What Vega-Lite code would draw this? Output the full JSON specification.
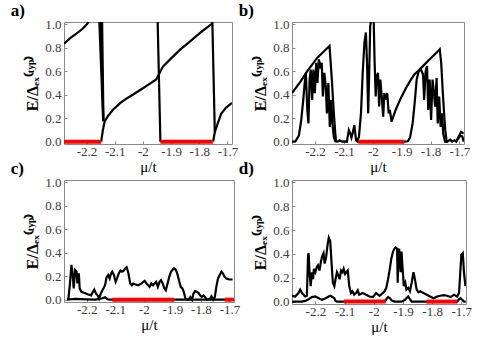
{
"$schema": "https://vega.github.io/schema/vega-lite/v6.json",
"padding": {"left": 10, "top": 1, "right": 5, "bottom": 2},
"columns": 2,
"spacing": {"row": -16, "column": -3},
"datasets": {
"a": [
{"s":"a1","x":-2.28,"y":0.835},{"s":"a1","x":-2.257,"y":0.885},{"s":"a1","x":-2.236,"y":0.92},{"s":"a1","x":-2.215,"y":0.96},{"s":"a1","x":-2.199,"y":1.0},{"s":"a1","x":-2.19,"y":1.03},
{"s":"a2","x":-2.155,"y":1.05},{"s":"a2","x":-2.141,"y":0.175},
{"s":"a3","x":-2.15,"y":1.05},{"s":"a3","x":-2.1405,"y":0.175},
{"s":"a3b","x":-2.145,"y":1.05},{"s":"a3b","x":-2.14,"y":0.175},
{"s":"a4","x":-2.148,"y":0},{"s":"a4","x":-2.142,"y":0.1},{"s":"a4","x":-2.136,"y":0.17},{"s":"a4","x":-2.125,"y":0.215},{"s":"a4","x":-2.107,"y":0.27},{"s":"a4","x":-2.08,"y":0.33},{"s":"a4","x":-2.06,"y":0.365},{"s":"a4","x":-2.036,"y":0.4},{"s":"a4","x":-2.0,"y":0.455},{"s":"a4","x":-1.975,"y":0.495},{"s":"a4","x":-1.953,"y":0.53},{"s":"a4","x":-1.944,"y":0.57},{"s":"a4","x":-1.929,"y":0.64},{"s":"a4","x":-1.9,"y":0.71},{"s":"a4","x":-1.87,"y":0.78},{"s":"a4","x":-1.84,"y":0.84},{"s":"a4","x":-1.811,"y":0.9},{"s":"a4","x":-1.785,"y":0.95},{"s":"a4","x":-1.758,"y":1.0},{"s":"a4","x":-1.752,"y":1.01},
{"s":"a5","x":-1.948,"y":1.05},{"s":"a5","x":-1.938,"y":0},
{"s":"a6","x":-1.754,"y":1.05},{"s":"a6","x":-1.745,"y":0.08},
{"s":"a7","x":-1.751,"y":0},{"s":"a7","x":-1.745,"y":0.08},{"s":"a7","x":-1.734,"y":0.16},{"s":"a7","x":-1.722,"y":0.24},{"s":"a7","x":-1.705,"y":0.29},{"s":"a7","x":-1.684,"y":0.33}
],
"b": [
{"s":"b1","x":-2.28,"y":0.414},{"s":"b1","x":-2.25,"y":0.514},{"s":"b1","x":-2.227,"y":0.601},{"s":"b1","x":-2.192,"y":0.716},{"s":"b1","x":-2.168,"y":0.773},{"s":"b1","x":-2.15,"y":0.816},{"s":"b1","x":-2.142,"y":0.529},{"s":"b1","x":-2.135,"y":0.241},{"s":"b1","x":-2.13,"y":0.069},{"s":"b1","x":-2.127,"y":0},
{"s":"b2","x":-2.28,"y":0},{"s":"b2","x":-2.268,"y":0.003},{"s":"b2","x":-2.256,"y":0.053},{"s":"b2","x":-2.248,"y":0.184},{"s":"b2","x":-2.241,"y":0.356},{"s":"b2","x":-2.236,"y":0.5},{"s":"b2","x":-2.232,"y":0.586},{"s":"b2","x":-2.227,"y":0.27},{"s":"b2","x":-2.223,"y":0.155},{"s":"b2","x":-2.219,"y":0.529},{"s":"b2","x":-2.215,"y":0.615},{"s":"b2","x":-2.21,"y":0.356},{"s":"b2","x":-2.206,"y":0.615},{"s":"b2","x":-2.201,"y":0.414},{"s":"b2","x":-2.196,"y":0.672},{"s":"b2","x":-2.192,"y":0.5},{"s":"b2","x":-2.187,"y":0.701},{"s":"b2","x":-2.182,"y":0.644},{"s":"b2","x":-2.177,"y":0.672},{"s":"b2","x":-2.173,"y":0.385},{"s":"b2","x":-2.168,"y":0.586},{"s":"b2","x":-2.163,"y":0.471},{"s":"b2","x":-2.159,"y":0.241},{"s":"b2","x":-2.154,"y":0.5},{"s":"b2","x":-2.149,"y":0.126},{"s":"b2","x":-2.144,"y":0.356},{"s":"b2","x":-2.14,"y":0.155},{"s":"b2","x":-2.135,"y":0.04},{"s":"b2","x":-2.13,"y":0.003},{"s":"b2","x":-2.121,"y":0},{"s":"b2","x":-2.115,"y":0.011},{"s":"b2","x":-2.107,"y":0},{"s":"b2","x":-2.097,"y":0.003},{"s":"b2","x":-2.09,"y":0},{"s":"b2","x":-2.083,"y":0.098},{"s":"b2","x":-2.078,"y":0.069},{"s":"b2","x":-2.074,"y":0.034},{"s":"b2","x":-2.069,"y":0.083},{"s":"b2","x":-2.064,"y":0.141},{"s":"b2","x":-2.058,"y":0.011},{"s":"b2","x":-2.053,"y":0},{"s":"b2","x":-1.891,"y":0},{"s":"b2","x":-1.879,"y":0.003},{"s":"b2","x":-1.871,"y":0.034},{"s":"b2","x":-1.862,"y":0.155},{"s":"b2","x":-1.855,"y":0.328},{"s":"b2","x":-1.848,"y":0.529},{"s":"b2","x":-1.841,"y":0.6},{"s":"b2","x":-1.833,"y":0.615},{"s":"b2","x":-1.826,"y":0.572},{"s":"b2","x":-1.822,"y":0.356},{"s":"b2","x":-1.817,"y":0.6},{"s":"b2","x":-1.812,"y":0.644},{"s":"b2","x":-1.808,"y":0.27},{"s":"b2","x":-1.803,"y":0.529},{"s":"b2","x":-1.798,"y":0.184},{"s":"b2","x":-1.793,"y":0.529},{"s":"b2","x":-1.789,"y":0.442},{"s":"b2","x":-1.784,"y":0.299},{"s":"b2","x":-1.779,"y":0.543},{"s":"b2","x":-1.775,"y":0.155},{"s":"b2","x":-1.77,"y":0.385},{"s":"b2","x":-1.765,"y":0.126},{"s":"b2","x":-1.76,"y":0.241},{"s":"b2","x":-1.756,"y":0.069},{"s":"b2","x":-1.75,"y":0},{"s":"b2","x":-1.742,"y":0},{"s":"b2","x":-1.732,"y":0.017},{"s":"b2","x":-1.725,"y":0},{"s":"b2","x":-1.717,"y":0.011},{"s":"b2","x":-1.711,"y":0},{"s":"b2","x":-1.703,"y":0.04},{"s":"b2","x":-1.694,"y":0.083},{"s":"b2","x":-1.685,"y":0.069},
{"s":"b3","x":-2.056,"y":0},{"s":"b3","x":-2.048,"y":0.04},{"s":"b3","x":-2.041,"y":0.241},{"s":"b3","x":-2.035,"y":0.586},{"s":"b3","x":-2.029,"y":0.845},{"s":"b3","x":-2.024,"y":0.931},{"s":"b3","x":-2.02,"y":0.672},{"s":"b3","x":-2.016,"y":0.241},{"s":"b3","x":-2.013,"y":0.529},{"s":"b3","x":-2.009,"y":0.988},{"s":"b3","x":-2.005,"y":1.046},{"s":"b3","x":-2.001,"y":1.06},{"s":"b3","x":-1.997,"y":1.046},{"s":"b3","x":-1.994,"y":0.701},{"s":"b3","x":-1.99,"y":0.385},{"s":"b3","x":-1.987,"y":0.557},{"s":"b3","x":-1.982,"y":0.586},{"s":"b3","x":-1.978,"y":0.299},{"s":"b3","x":-1.974,"y":0.529},{"s":"b3","x":-1.969,"y":0.385},{"s":"b3","x":-1.964,"y":0.213},{"s":"b3","x":-1.96,"y":0.414},{"s":"b3","x":-1.955,"y":0.356},{"s":"b3","x":-1.95,"y":0.414},{"s":"b3","x":-1.945,"y":0.241},{"s":"b3","x":-1.941,"y":0.27},{"s":"b3","x":-1.935,"y":0.17},{"s":"b3","x":-1.921,"y":0.27},{"s":"b3","x":-1.903,"y":0.371},{"s":"b3","x":-1.885,"y":0.457},{"s":"b3","x":-1.868,"y":0.529},{"s":"b3","x":-1.856,"y":0.572},{"s":"b3","x":-1.844,"y":0.6},{"s":"b3","x":-1.826,"y":0.644},{"s":"b3","x":-1.809,"y":0.687},{"s":"b3","x":-1.791,"y":0.73},{"s":"b3","x":-1.777,"y":0.764},{"s":"b3","x":-1.768,"y":0.787},{"s":"b3","x":-1.763,"y":0.672},{"s":"b3","x":-1.758,"y":0.442},{"s":"b3","x":-1.753,"y":0.241},{"s":"b3","x":-1.749,"y":0.098},{"s":"b3","x":-1.744,"y":0},{"s":"b3","x":-1.739,"y":0},
{"s":"b5","x":-1.711,"y":0},{"s":"b5","x":-1.703,"y":0.03},{"s":"b5","x":-1.696,"y":0.05},{"s":"b5","x":-1.69,"y":0.045},{"s":"b5","x":-1.685,"y":0.0}
],
"c": [
{"s":"c1","x":-2.265,"y":0},{"s":"c1","x":-2.259,"y":0.138},{"s":"c1","x":-2.254,"y":0.296},{"s":"c1","x":-2.25,"y":0.224},{"s":"c1","x":-2.246,"y":0.095},{"s":"c1","x":-2.241,"y":0.253},{"s":"c1","x":-2.236,"y":0.238},{"s":"c1","x":-2.233,"y":0.138},{"s":"c1","x":-2.228,"y":0.224},{"s":"c1","x":-2.225,"y":0.095},{"s":"c1","x":-2.219,"y":0.066},{"s":"c1","x":-2.208,"y":0.057},{"s":"c1","x":-2.197,"y":0.046},{"s":"c1","x":-2.185,"y":0.037},{"s":"c1","x":-2.179,"y":0.066},{"s":"c1","x":-2.174,"y":0.086},{"s":"c1","x":-2.168,"y":0.052},{"s":"c1","x":-2.162,"y":0.037},{"s":"c1","x":-2.157,"y":0.008},{"s":"c1","x":-2.151,"y":0.052},{"s":"c1","x":-2.145,"y":0.08},{"s":"c1","x":-2.136,"y":0.123},{"s":"c1","x":-2.131,"y":0.189},{"s":"c1","x":-2.125,"y":0.21},{"s":"c1","x":-2.12,"y":0.181},{"s":"c1","x":-2.115,"y":0.224},{"s":"c1","x":-2.111,"y":0.238},{"s":"c1","x":-2.105,"y":0.21},{"s":"c1","x":-2.099,"y":0.152},{"s":"c1","x":-2.094,"y":0.181},{"s":"c1","x":-2.088,"y":0.224},{"s":"c1","x":-2.082,"y":0.247},{"s":"c1","x":-2.077,"y":0.238},{"s":"c1","x":-2.071,"y":0.247},{"s":"c1","x":-2.065,"y":0.267},{"s":"c1","x":-2.06,"y":0.276},{"s":"c1","x":-2.054,"y":0.224},{"s":"c1","x":-2.048,"y":0.138},{"s":"c1","x":-2.042,"y":0.123},{"s":"c1","x":-2.037,"y":0.138},{"s":"c1","x":-2.031,"y":0.132},{"s":"c1","x":-2.02,"y":0.123},{"s":"c1","x":-2.008,"y":0.138},{"s":"c1","x":-2.002,"y":0.152},{"s":"c1","x":-1.997,"y":0.161},{"s":"c1","x":-1.991,"y":0.138},{"s":"c1","x":-1.985,"y":0.123},{"s":"c1","x":-1.98,"y":0.109},{"s":"c1","x":-1.974,"y":0.138},{"s":"c1","x":-1.968,"y":0.123},{"s":"c1","x":-1.963,"y":0.138},{"s":"c1","x":-1.957,"y":0.152},{"s":"c1","x":-1.951,"y":0.109},{"s":"c1","x":-1.945,"y":0.152},{"s":"c1","x":-1.94,"y":0.166},{"s":"c1","x":-1.934,"y":0.138},{"s":"c1","x":-1.928,"y":0.095},{"s":"c1","x":-1.923,"y":0.08},{"s":"c1","x":-1.917,"y":0.138},{"s":"c1","x":-1.911,"y":0.195},{"s":"c1","x":-1.905,"y":0.238},{"s":"c1","x":-1.9,"y":0.253},{"s":"c1","x":-1.894,"y":0.267},{"s":"c1","x":-1.888,"y":0.253},{"s":"c1","x":-1.883,"y":0.224},{"s":"c1","x":-1.877,"y":0.166},{"s":"c1","x":-1.871,"y":0.109},{"s":"c1","x":-1.865,"y":0.095},{"s":"c1","x":-1.86,"y":0.066},{"s":"c1","x":-1.854,"y":0.008},{"s":"c1","x":-1.848,"y":0},{"s":"c1","x":-1.843,"y":0},{"s":"c1","x":-1.837,"y":0.023},{"s":"c1","x":-1.831,"y":0},{"s":"c1","x":-1.826,"y":0.052},{"s":"c1","x":-1.82,"y":0.074},{"s":"c1","x":-1.814,"y":0.066},{"s":"c1","x":-1.808,"y":0.057},{"s":"c1","x":-1.803,"y":0.037},{"s":"c1","x":-1.797,"y":0.023},{"s":"c1","x":-1.791,"y":0.037},{"s":"c1","x":-1.786,"y":0.023},{"s":"c1","x":-1.78,"y":0},{"s":"c1","x":-1.774,"y":0.003},{"s":"c1","x":-1.768,"y":0.008},{"s":"c1","x":-1.763,"y":0.029},{"s":"c1","x":-1.757,"y":0},{"s":"c1","x":-1.751,"y":0.023},{"s":"c1","x":-1.746,"y":0.109},{"s":"c1","x":-1.74,"y":0.181},{"s":"c1","x":-1.734,"y":0.21},{"s":"c1","x":-1.728,"y":0.238},{"s":"c1","x":-1.723,"y":0.224},{"s":"c1","x":-1.717,"y":0.195},{"s":"c1","x":-1.711,"y":0.181},{"s":"c1","x":-1.7,"y":0.172},{"s":"c1","x":-1.689,"y":0.172},
{"s":"c2","x":-2.27,"y":0},{"s":"c2","x":-2.24,"y":0.006},{"s":"c2","x":-2.2,"y":0.003},{"s":"c2","x":-2.17,"y":0},{"s":"c2","x":-2.145,"y":0.012},{"s":"c2","x":-2.136,"y":0.02},{"s":"c2","x":-2.126,"y":0.003},{"s":"c2","x":-2.11,"y":0},{"s":"c2","x":-1.685,"y":0}
],
"d": [
{"s":"d1","x":-2.28,"y":0.049},{"s":"d1","x":-2.269,"y":0.043},{"s":"d1","x":-2.258,"y":0.072},{"s":"d1","x":-2.252,"y":0.101},{"s":"d1","x":-2.246,"y":0.072},{"s":"d1","x":-2.235,"y":0.043},{"s":"d1","x":-2.229,"y":0.049},{"s":"d1","x":-2.225,"y":0.391},{"s":"d1","x":-2.223,"y":0.406},{"s":"d1","x":-2.22,"y":0.246},{"s":"d1","x":-2.216,"y":0.13},{"s":"d1","x":-2.212,"y":0.246},{"s":"d1","x":-2.208,"y":0.188},{"s":"d1","x":-2.205,"y":0.275},{"s":"d1","x":-2.2,"y":0.246},{"s":"d1","x":-2.195,"y":0.29},{"s":"d1","x":-2.191,"y":0.304},{"s":"d1","x":-2.186,"y":0.261},{"s":"d1","x":-2.181,"y":0.333},{"s":"d1","x":-2.177,"y":0.377},{"s":"d1","x":-2.172,"y":0.406},{"s":"d1","x":-2.168,"y":0.319},{"s":"d1","x":-2.163,"y":0.377},{"s":"d1","x":-2.158,"y":0.478},{"s":"d1","x":-2.154,"y":0.536},{"s":"d1","x":-2.149,"y":0.507},{"s":"d1","x":-2.144,"y":0.304},{"s":"d1","x":-2.14,"y":0.159},{"s":"d1","x":-2.135,"y":0.13},{"s":"d1","x":-2.131,"y":0.188},{"s":"d1","x":-2.126,"y":0.246},{"s":"d1","x":-2.121,"y":0.217},{"s":"d1","x":-2.117,"y":0.188},{"s":"d1","x":-2.112,"y":0.261},{"s":"d1","x":-2.107,"y":0.246},{"s":"d1","x":-2.103,"y":0.275},{"s":"d1","x":-2.098,"y":0.232},{"s":"d1","x":-2.094,"y":0.246},{"s":"d1","x":-2.089,"y":0.261},{"s":"d1","x":-2.084,"y":0.13},{"s":"d1","x":-2.078,"y":0.072},{"s":"d1","x":-2.073,"y":0.087},{"s":"d1","x":-2.067,"y":0.058},{"s":"d1","x":-2.061,"y":0.072},{"s":"d1","x":-2.055,"y":0.095},{"s":"d1","x":-2.05,"y":0.058},{"s":"d1","x":-2.038,"y":0.072},{"s":"d1","x":-2.026,"y":0.058},{"s":"d1","x":-2.015,"y":0.043},{"s":"d1","x":-2.003,"y":0.038},{"s":"d1","x":-1.992,"y":0.072},{"s":"d1","x":-1.98,"y":0.049},{"s":"d1","x":-1.969,"y":0.072},{"s":"d1","x":-1.963,"y":0.087},{"s":"d1","x":-1.957,"y":0.116},{"s":"d1","x":-1.951,"y":0.188},{"s":"d1","x":-1.945,"y":0.275},{"s":"d1","x":-1.94,"y":0.357},{"s":"d1","x":-1.934,"y":0.42},{"s":"d1","x":-1.928,"y":0.449},{"s":"d1","x":-1.925,"y":0.455},{"s":"d1","x":-1.92,"y":0.444},{"s":"d1","x":-1.918,"y":0.159},{"s":"d1","x":-1.915,"y":0.42},{"s":"d1","x":-1.913,"y":0.444},{"s":"d1","x":-1.908,"y":0.246},{"s":"d1","x":-1.905,"y":0.42},{"s":"d1","x":-1.901,"y":0.275},{"s":"d1","x":-1.897,"y":0.13},{"s":"d1","x":-1.892,"y":0.159},{"s":"d1","x":-1.888,"y":0.101},{"s":"d1","x":-1.882,"y":0.116},{"s":"d1","x":-1.876,"y":0.087},{"s":"d1","x":-1.87,"y":0.159},{"s":"d1","x":-1.864,"y":0.246},{"s":"d1","x":-1.859,"y":0.188},{"s":"d1","x":-1.853,"y":0.101},{"s":"d1","x":-1.847,"y":0.078},{"s":"d1","x":-1.841,"y":0.087},{"s":"d1","x":-1.83,"y":0.072},{"s":"d1","x":-1.818,"y":0.058},{"s":"d1","x":-1.807,"y":0.043},{"s":"d1","x":-1.795,"y":0.029},{"s":"d1","x":-1.783,"y":0.043},{"s":"d1","x":-1.772,"y":0.049},{"s":"d1","x":-1.76,"y":0.055},{"s":"d1","x":-1.749,"y":0.049},{"s":"d1","x":-1.737,"y":0.038},{"s":"d1","x":-1.725,"y":0.058},{"s":"d1","x":-1.714,"y":0.043},{"s":"d1","x":-1.708,"y":0.072},{"s":"d1","x":-1.705,"y":0.188},{"s":"d1","x":-1.7,"y":0.391},{"s":"d1","x":-1.695,"y":0.406},{"s":"d1","x":-1.691,"y":0.246},{"s":"d1","x":-1.686,"y":0.13},
{"s":"d2","x":-2.28,"y":0},{"s":"d2","x":-2.246,"y":0},{"s":"d2","x":-2.235,"y":0.006},{"s":"d2","x":-2.223,"y":0.02},{"s":"d2","x":-2.212,"y":0.038},{"s":"d2","x":-2.2,"y":0.043},{"s":"d2","x":-2.188,"y":0.029},{"s":"d2","x":-2.177,"y":0.015},{"s":"d2","x":-2.165,"y":0.029},{"s":"d2","x":-2.154,"y":0.043},{"s":"d2","x":-2.149,"y":0.049},{"s":"d2","x":-2.144,"y":0.043},{"s":"d2","x":-2.135,"y":0.029},{"s":"d2","x":-2.131,"y":0.006},{"s":"d2","x":-2.126,"y":0},{"s":"d2","x":-1.963,"y":0},{"s":"d2","x":-1.957,"y":0.02},{"s":"d2","x":-1.951,"y":0.038},{"s":"d2","x":-1.945,"y":0.029},{"s":"d2","x":-1.939,"y":0.01},{"s":"d2","x":-1.928,"y":0},{"s":"d2","x":-1.905,"y":0},{"s":"d2","x":-1.893,"y":0.015},{"s":"d2","x":-1.888,"y":0.029},{"s":"d2","x":-1.882,"y":0.043},{"s":"d2","x":-1.876,"y":0.02},{"s":"d2","x":-1.87,"y":0},{"s":"d2","x":-1.714,"y":0},{"s":"d2","x":-1.708,"y":0.02},{"s":"d2","x":-1.703,"y":0.029},{"s":"d2","x":-1.697,"y":0.015},{"s":"d2","x":-1.691,"y":0},{"s":"d2","x":-1.685,"y":0}
],
"red": [
{"p":"a","x":-2.28,"x2":-2.148,"y":0},{"p":"a","x":-1.938,"x2":-1.752,"y":0},
{"p":"b","x":-2.05,"x2":-1.891,"y":0},
{"p":"c","x":-2.111,"x2":-1.894,"y":0},{"p":"c","x":-1.717,"x2":-1.685,"y":0},
{"p":"d","x":-2.102,"x2":-1.959,"y":0},{"p":"d","x":-1.82,"x2":-1.714,"y":0}
]
},
"config": {
"view": {"stroke": "#8a8a8a", "strokeWidth": 1},
"axis": {"domain": false, "grid": false, "labelFont": "serif", "labelFontSize": 13, "labelColor": "#3a3a3a", "tickColor": "#8a8a8a", "tickSize": -3, "titleFont": "serif", "titleColor": "#000000", "labelOverlap": false, "labelFlush": false},
"axisX": {"values": [-2.2, -2.1, -2, -1.9, -1.8, -1.7], "format": ".1~f", "labelExpr": "replace(datum.label,'\u2212','-')", "titleFontSize": 15, "titleFontWeight": "normal", "labelPadding": 4, "titlePadding": 1},
"axisY": {"values": [0, 0.5, 1], "format": ".1f", "titleFontSize": 16, "titleFontWeight": "bold", "labelPadding": 6, "titlePadding": 4},
"title": {"font": "serif", "fontSize": 17, "fontWeight": "bold", "anchor": "start", "frame": "bounds", "color": "#000000", "dx": -14, "offset": -2}
},
"concat": [
{"title": "a)", "width": 168, "height": 122,
 "encoding": {
  "x": {"field": "x", "type": "quantitative", "scale": {"domain": [-2.28, -1.684], "nice": false, "zero": false}, "title": "μ/t"},
  "y": {"field": "y", "type": "quantitative", "scale": {"domain": [-0.02, 1.02], "nice": false, "zero": false}, "title": "E/Δₑₓ⁽ᵗʸᵖ⁾"}},
 "layer": [
  {"data": {"name": "a"}, "mark": {"type": "line", "color": "black", "strokeWidth": 2.2, "clip": true}, "encoding": {"detail": {"field": "s"}}},
  {"data": {"name": "red"}, "transform": [{"filter": "datum.p === 'a'"}], "mark": {"type": "rule", "color": "#ff0000", "strokeWidth": 4}, "encoding": {"x2": {"field": "x2"}}}
 ]},
{"title": "b)", "width": 172, "height": 122,
 "encoding": {
  "x": {"field": "x", "type": "quantitative", "scale": {"domain": [-2.28, -1.684], "nice": false, "zero": false}, "title": "μ/t"},
  "y": {"field": "y", "type": "quantitative", "scale": {"domain": [-0.02, 1.02], "nice": false, "zero": false}, "title": "E/Δₑₓ⁽ᵗʸᵖ⁾"}},
 "layer": [
  {"data": {"name": "b"}, "mark": {"type": "line", "color": "black", "strokeWidth": 2.2, "clip": true}, "encoding": {"detail": {"field": "s"}}},
  {"data": {"name": "red"}, "transform": [{"filter": "datum.p === 'b'"}], "mark": {"type": "rule", "color": "#ff0000", "strokeWidth": 4}, "encoding": {"x2": {"field": "x2"}}}
 ]},
{"title": "c)", "width": 170, "height": 122,
 "encoding": {
  "x": {"field": "x", "type": "quantitative", "scale": {"domain": [-2.28, -1.684], "nice": false, "zero": false}, "title": "μ/t"},
  "y": {"field": "y", "type": "quantitative", "scale": {"domain": [-0.02, 1.02], "nice": false, "zero": false}, "title": "E/Δₑₓ⁽ᵗʸᵖ⁾"}},
 "layer": [
  {"data": {"name": "c"}, "mark": {"type": "line", "color": "black", "strokeWidth": 2.2, "clip": true}, "encoding": {"detail": {"field": "s"}}},
  {"data": {"name": "red"}, "transform": [{"filter": "datum.p === 'c'"}], "mark": {"type": "rule", "color": "#ff0000", "strokeWidth": 4}, "encoding": {"x2": {"field": "x2"}}}
 ]},
{"title": "d)", "width": 174, "height": 124,
 "encoding": {
  "x": {"field": "x", "type": "quantitative", "scale": {"domain": [-2.28, -1.684], "nice": false, "zero": false}, "title": "μ/t"},
  "y": {"field": "y", "type": "quantitative", "scale": {"domain": [-0.02, 1.02], "nice": false, "zero": false}, "title": "E/Δₑₓ⁽ᵗʸᵖ⁾"}},
 "layer": [
  {"data": {"name": "d"}, "mark": {"type": "line", "color": "black", "strokeWidth": 2.2, "clip": true}, "encoding": {"detail": {"field": "s"}}},
  {"data": {"name": "red"}, "transform": [{"filter": "datum.p === 'd'"}], "mark": {"type": "rule", "color": "#ff0000", "strokeWidth": 4}, "encoding": {"x2": {"field": "x2"}}}
 ]}
]
}
